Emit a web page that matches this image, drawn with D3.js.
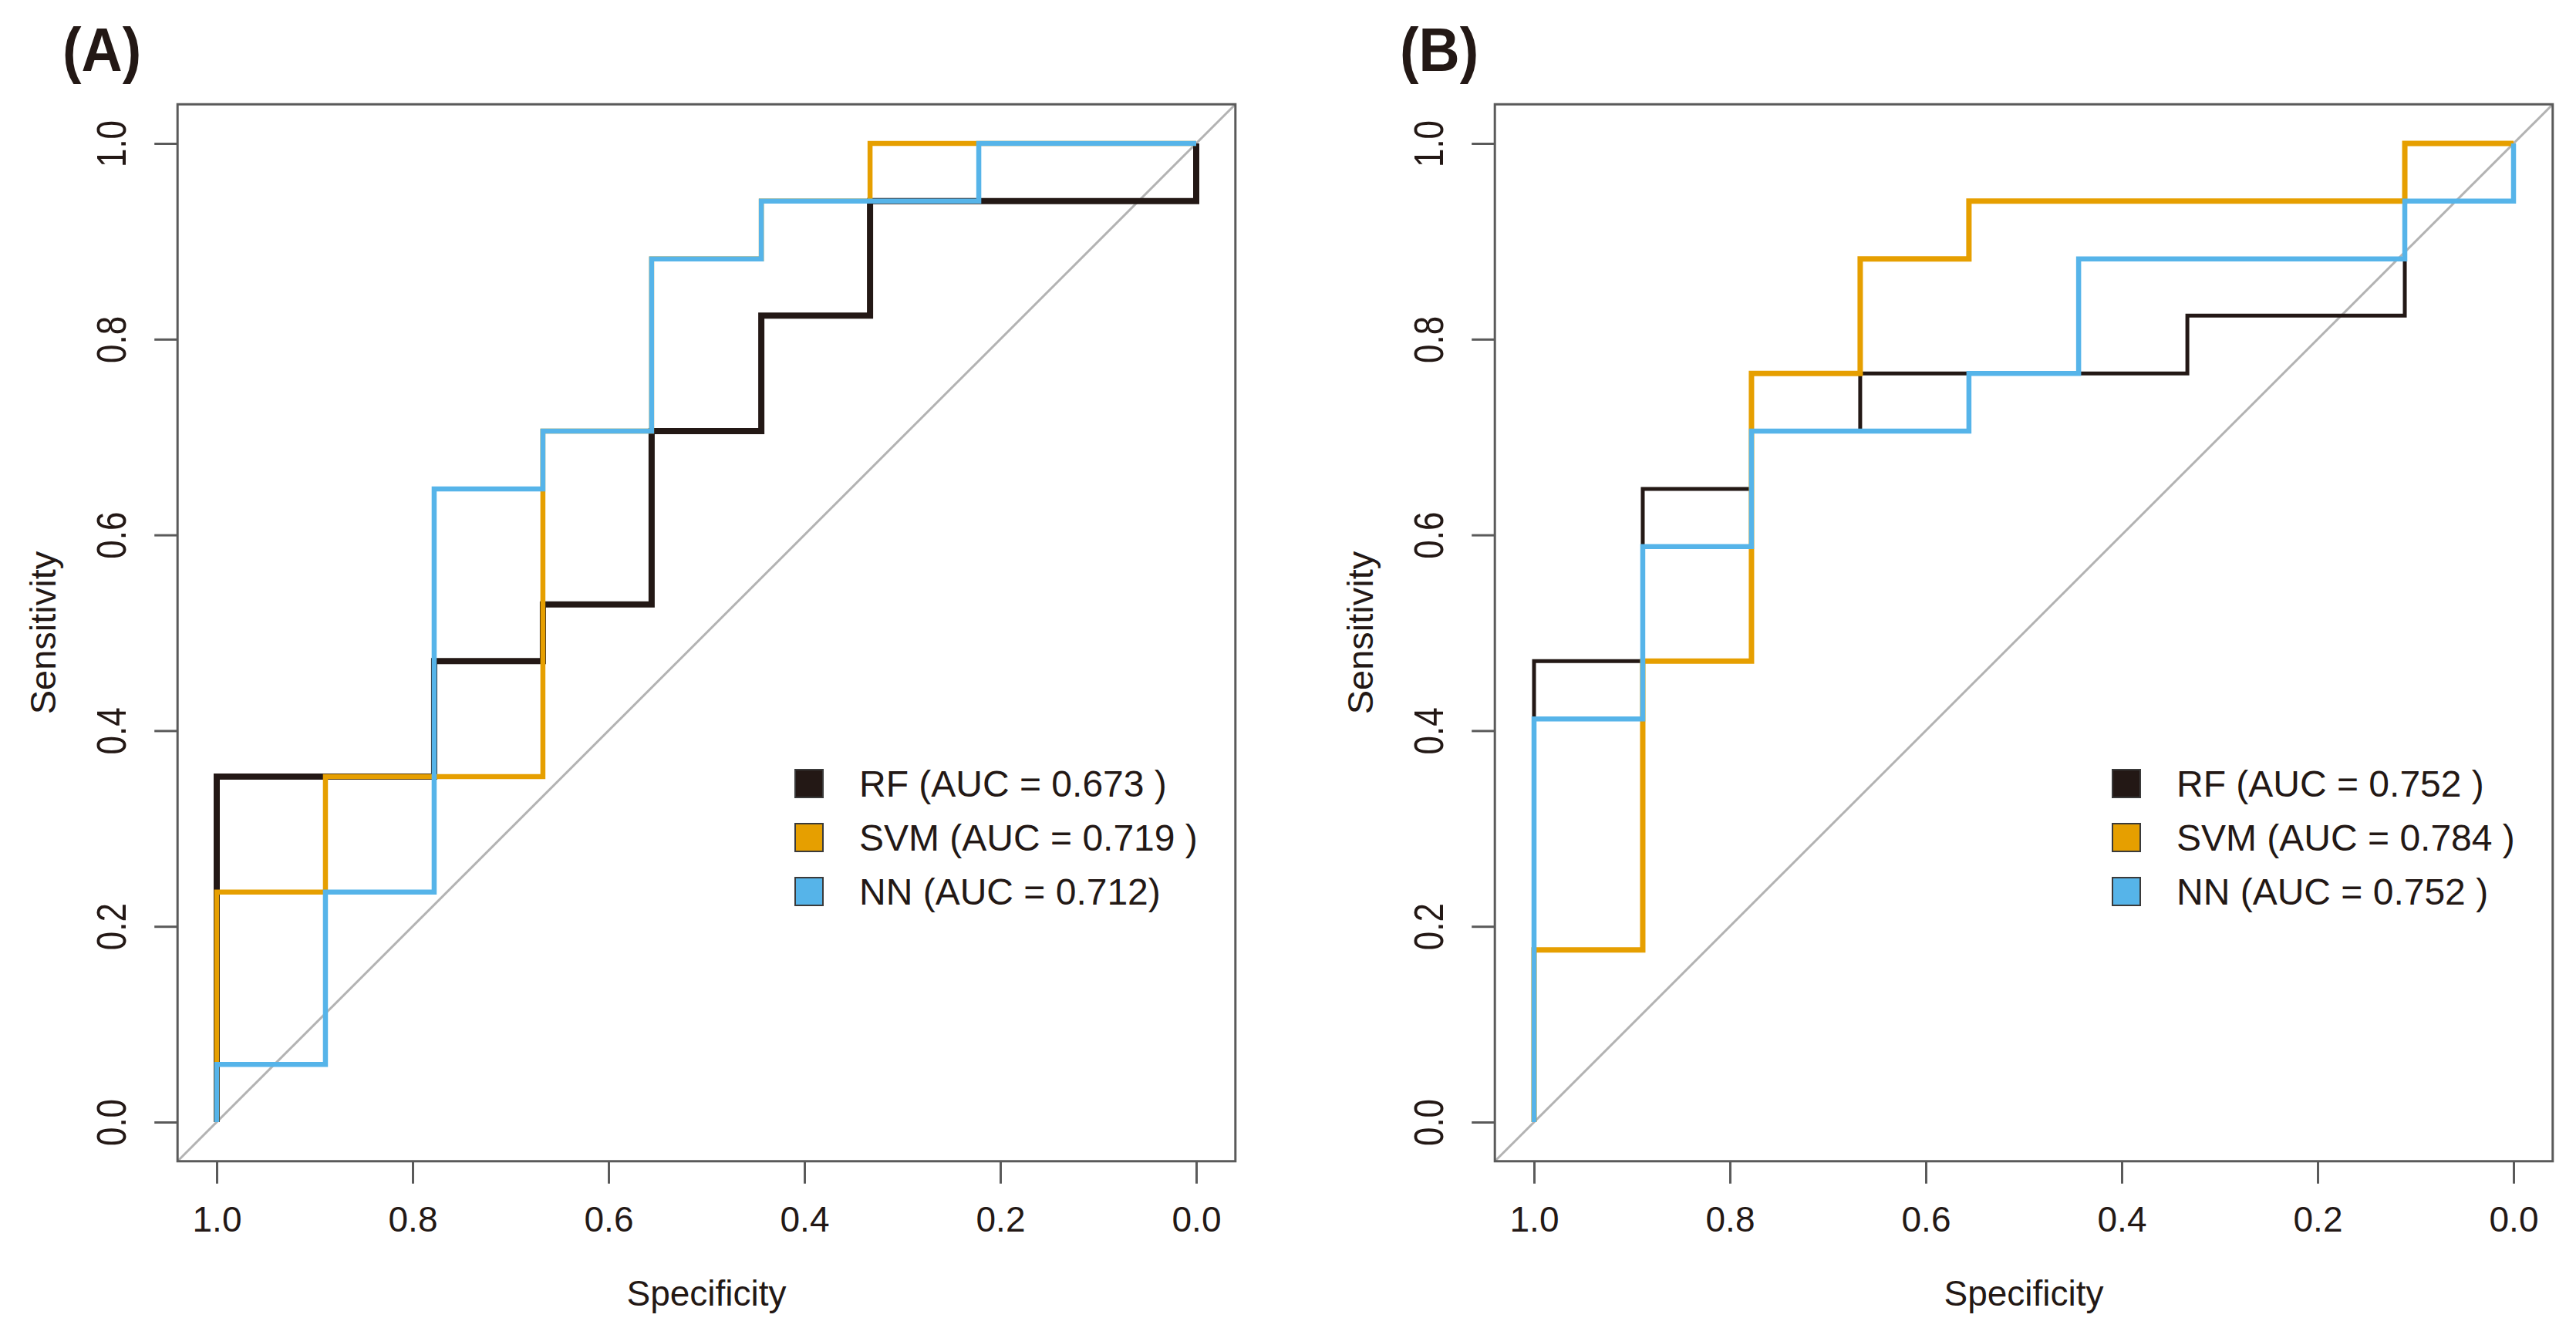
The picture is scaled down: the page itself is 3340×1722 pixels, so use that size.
<!DOCTYPE html>
<html>
<head>
<meta charset="utf-8">
<script src="https://cdn.jsdelivr.net/npm/d3@7"></script>
<style>
  body { margin: 0; background: #fff; }
  text { font-family: "Liberation Sans", Arial, sans-serif; fill: #231815; }
</style>
</head>
<body>
<svg id="chart"></svg>
<script>
// ROC coordinates, [specificity, sensitivity]
const rocA_RF = [[1, 0], [1, 0.353], [0.778, 0.353], [0.778, 0.471], [0.667, 0.471], [0.667, 0.529], [0.556, 0.529], [0.556, 0.706], [0.444, 0.706], [0.444, 0.824], [0.333, 0.824], [0.333, 0.941], [0, 0.941], [0, 1]]
const rocA_SVM = [[1, 0], [1, 0.235], [0.889, 0.235], [0.889, 0.353], [0.667, 0.353], [0.667, 0.706], [0.556, 0.706], [0.556, 0.882], [0.444, 0.882], [0.444, 0.941], [0.333, 0.941], [0.333, 1], [0, 1]]
const rocA_NN = [[1, 0], [1, 0.059], [0.889, 0.059], [0.889, 0.235], [0.778, 0.235], [0.778, 0.647], [0.667, 0.647], [0.667, 0.706], [0.556, 0.706], [0.556, 0.882], [0.444, 0.882], [0.444, 0.941], [0.222, 0.941], [0.222, 1], [0, 1]]

const rocB_RF = [[1, 0], [1, 0.471], [0.889, 0.471], [0.889, 0.647], [0.778, 0.647], [0.778, 0.706], [0.667, 0.706], [0.667, 0.765], [0.333, 0.765], [0.333, 0.824], [0.111, 0.824], [0.111, 1], [0, 1]]
const rocB_SVM = [[1, 0], [1, 0.176], [0.889, 0.176], [0.889, 0.471], [0.778, 0.471], [0.778, 0.765], [0.667, 0.765], [0.667, 0.882], [0.556, 0.882], [0.556, 0.941], [0.111, 0.941], [0.111, 1], [0, 1]]
const rocB_NN = [[1, 0], [1, 0.412], [0.889, 0.412], [0.889, 0.588], [0.778, 0.588], [0.778, 0.706], [0.556, 0.706], [0.556, 0.765], [0.444, 0.765], [0.444, 0.882], [0.111, 0.882], [0.111, 0.941], [0, 0.941], [0, 1]]

const models = ["RF", "SVM", "NN"]
const legendA = ["RF (AUC = 0.673 )", "SVM (AUC = 0.719 )", "NN (AUC = 0.712)"]
const legendB = ["RF (AUC = 0.752 )", "SVM (AUC = 0.784 )", "NN (AUC = 0.752 )"]
const ticks = [1.0, 0.8, 0.6, 0.4, 0.2, 0.0]

const colors = { RF: "#231815", SVM: "#e69f00", NN: "#56b4e9" }

const W = 3340
const H = 1722

const svg = d3.select("#chart").attr("width", W).attr("height", H)

const drawPanel = (cfg) => {
  const x0 = cfg.left // pixel of specificity 1.0
  const span = 1270
  const xScale = d3.scaleLinear().domain([1, 0]).range([x0, x0 + span])
  const yScale = d3.scaleLinear().domain([0, 1]).range([1455, 186])

  const g = svg.append("g")

  // diagonal reference line, clipped to the box (R extends the range 4%)
  g.append("line")
    .attr("x1", xScale(1.04)).attr("y1", yScale(-0.04))
    .attr("x2", xScale(-0.04)).attr("y2", yScale(1.04))
    .attr("stroke", "#b3b3b3")
    .attr("stroke-width", 3)

  const line = d3.line()
    .x((d) => xScale(d[0]))
    .y((d) => yScale(d[1]))

  cfg.curves.forEach((c, i) => {
    g.append("path")
      .datum(c)
      .attr("d", line)
      .attr("fill", "none")
      .attr("stroke", colors[models[i]])
      .attr("stroke-width", cfg.widths[i])
      .attr("stroke-linejoin", "miter")
  })

  // box
  g.append("rect")
    .attr("x", xScale(1.04)).attr("y", yScale(1.04))
    .attr("width", xScale(-0.04) - xScale(1.04))
    .attr("height", yScale(-0.04) - yScale(1.04))
    .attr("fill", "none")
    .attr("stroke", "#5a5a5a")
    .attr("stroke-width", 3)

  // x axis
  const xAxis = d3.axisBottom(xScale).tickValues(ticks).tickSize(29).tickPadding(30)
    .tickFormat(d3.format(".1f"))
  const gx = g.append("g")
    .attr("transform", `translate(0,${yScale(-0.04)})`)
    .call(xAxis)
  gx.select(".domain").remove()
  gx.selectAll(".tick line").attr("stroke", "#5a5a5a").attr("stroke-width", 3)
  gx.selectAll(".tick text")
    .attr("font-size", 46)
    .attr("font-family", "Liberation Sans, Arial, sans-serif")
    .attr("fill", "#231815")

  // y axis with rotated labels
  const yAxis = d3.axisLeft(yScale).tickValues(ticks).tickSize(30).tickFormat(d3.format(".1f"))
  const gy = g.append("g")
    .attr("transform", `translate(${xScale(1.04)},0)`)
    .call(yAxis)
  gy.select(".domain").remove()
  gy.selectAll(".tick line").attr("stroke", "#5a5a5a").attr("stroke-width", 3)
  gy.selectAll(".tick text")
    .attr("x", null).attr("dy", null)
    .attr("text-anchor", "middle")
    .attr("transform", "translate(-67,0) rotate(-90) scale(1,1.22)")
    .attr("font-size", 44)
    .attr("font-family", "Liberation Sans, Arial, sans-serif")
    .attr("fill", "#231815")

  // axis titles
  g.append("text")
    .attr("x", (xScale(1.04) + xScale(-0.04)) / 2)
    .attr("y", 1693)
    .attr("text-anchor", "middle")
    .attr("font-size", 46)
    .text("Specificity")
  g.append("text")
    .attr("transform", `translate(${xScale(1.04) - 158},${(yScale(0) + yScale(1)) / 2}) rotate(-90)`)
    .attr("text-anchor", "middle")
    .attr("font-size", 47)
    .text("Sensitivity")

  // panel label
  g.append("text")
    .attr("x", cfg.labelX)
    .attr("y", 92)
    .attr("font-size", 80)
    .attr("font-weight", "bold")
    .attr("transform", `translate(${cfg.labelX},0) scale(0.92,1) translate(${-cfg.labelX},0)`)
    .text(cfg.label)

  // legend
  const leg = g.append("g")
  cfg.legend.forEach((t, i) => {
    const cy = 1016 + i * 70
    leg.append("rect")
      .attr("x", cfg.legendX).attr("y", cy - 18)
      .attr("width", 36).attr("height", 36)
      .attr("fill", colors[models[i]])
      .attr("stroke", "#3a3a3a")
      .attr("stroke-width", 2)
    leg.append("text")
      .attr("x", cfg.legendX + 83)
      .attr("y", cy)
      .attr("dy", "0.36em")
      .attr("font-size", 48)
      .text(t)
  })
}

drawPanel({
  left: 281,
  curves: [rocA_RF, rocA_SVM, rocA_NN],
  widths: [8, 6.5, 6.5],
  label: "(A)",
  labelX: 81,
  legend: legendA,
  legendX: 1031,
})

drawPanel({
  left: 1989,
  curves: [rocB_RF, rocB_SVM, rocB_NN],
  widths: [5, 7, 6.5],
  label: "(B)",
  labelX: 1815,
  legend: legendB,
  legendX: 2739,
})
</script>
</body>
</html>
